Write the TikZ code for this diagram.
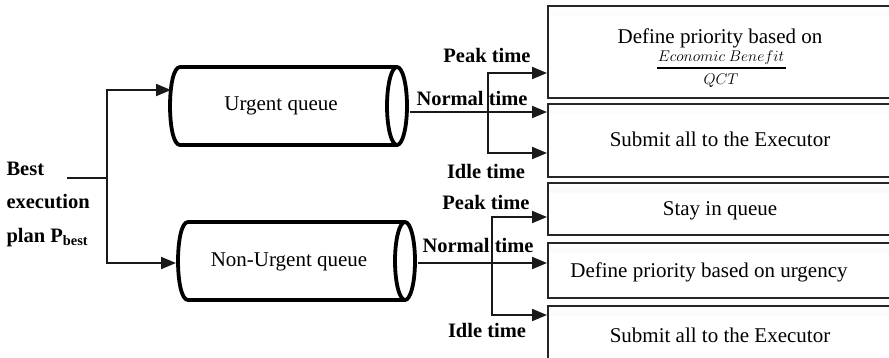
\RequirePackage{fix-cm}
\documentclass[tikz,border=0pt]{standalone}
\usepackage{fontspec}
\setmainfont{Liberation Serif}
\usetikzlibrary{arrows.meta}

\begin{document}
\begin{tikzpicture}[x=1pt,y=-1pt,
  conn/.style={line width=2pt, draw=black!90},
  arr/.style={conn, -{Triangle[length=15pt,width=12pt]}},
  actbox/.style={draw=black!85, line width=2pt, fill=white, anchor=north west,
    inner sep=0pt, minimum width=350pt,
    path picture={\shade[top color=white, bottom color=black!12]
      (path picture bounding box.north west) rectangle
      ([yshift=-9pt]path picture bounding box.north east);}},
  qtext/.style={font=\fontsize{21}{24}\selectfont},
  lbl/.style={font=\fontsize{20.5}{24}\selectfont\bfseries},
  cyl/.style={line width=3.8pt, line join=round, draw=black},
  frac/.style={font=\fontsize{15.5}{18}\selectfont},
]
\useasboundingbox (0,0) rectangle (889,357);
\clip (0,0) rectangle (889,357);

% ---- action boxes on the right ----
\node[actbox, minimum height=92pt] (b1) at (547,5) {};
\node[actbox, minimum height=73pt] (b2) at (547,103) {};
\node[actbox, minimum height=52pt] (b3) at (547,182) {};
\node[actbox, minimum height=55pt] (b4) at (547,242) {};
\node[actbox, minimum height=58pt] (b5) at (547,305) {};

\node[qtext] (t1) at (720,38) {Define priority based on};
\node[frac] (num) at (721,58) {$Economic\ Benefit$};
\node[frac] (den) at (721,81) {$QCT$};
\draw[line width=1.6pt] (657,68) -- (786,68);
\node[qtext] (t2) at (720,139) {Submit all to the Executor};
\node[qtext] (t3) at (720,211) {Stay in queue};
\node[qtext] (t4) at (709,272) {Define priority based on urgency};
\node[qtext] (t5) at (720,335) {Submit all to the Executor};

% ---- urgent queue cylinder ----
\fill[white] (397,67) -- (180,67) .. controls (166.7,67) and (166.7,145) .. (180,145) -- (397,145) -- cycle;
\draw[cyl] (397,67) -- (180,67) .. controls (166.7,67) and (166.7,145) .. (180,145) -- (397,145);
\draw[cyl, fill=white] (397,106) ellipse [x radius=10, y radius=39];
\node[qtext] (uq) at (281,106) {Urgent queue};

% ---- non-urgent queue cylinder ----
\fill[white] (405,222) -- (188,222) .. controls (174.7,222) and (174.7,300) .. (188,300) -- (405,300) -- cycle;
\draw[cyl] (405,222) -- (188,222) .. controls (174.7,222) and (174.7,300) .. (188,300) -- (405,300);
\draw[cyl, fill=white] (405,261) ellipse [x radius=10, y radius=39];
\node[qtext] (nq) at (289,262) {Non-Urgent queue};

% ---- source ----
\node[lbl, font=\fontsize{20.5}{33.5}\selectfont\bfseries, align=left, anchor=west]
  (best) at (3,204) {Best\\execution\\plan P\textsubscript{best}};
\coordinate (src) at (67,178);
\coordinate (lfork) at (107,178);
\coordinate (uin) at (171,90);
\coordinate (nin) at (176,263);
\draw[conn] (src) -- (lfork);
\draw[arr] (lfork) |- (uin);
\draw[arr] (lfork) |- (nin);

% ---- urgent branches ----
\coordinate (uout) at (410,112);
\coordinate (ufork) at (488,112);
\draw[conn] (uout) -- (ufork);
\draw[arr] (ufork) |- (b1.west |- 0,73);
\draw[arr] (ufork) -- (b2.west |- 0,112);
\draw[arr] (ufork) |- (b2.west |- 0,153);
\node[lbl] (up) at (487,55) {Peak time};
\node[lbl] (un) at (472,98) {Normal time};
\node[lbl] (ui) at (486,171) {Idle time};

% ---- non-urgent branches ----
\coordinate (nout) at (418,263);
\coordinate (nfork) at (492,263);
\draw[conn] (nout) -- (nfork);
\draw[arr] (nfork) |- (b3.west |- 0,217);
\draw[arr] (nfork) -- (b4.west |- 0,263);
\draw[arr] (nfork) |- (b5.west |- 0,315);
\node[lbl] (np) at (486,202) {Peak time};
\node[lbl] (nn) at (478,245) {Normal time};
\node[lbl] (ni) at (487,330) {Idle time};
\end{tikzpicture}
\end{document}
